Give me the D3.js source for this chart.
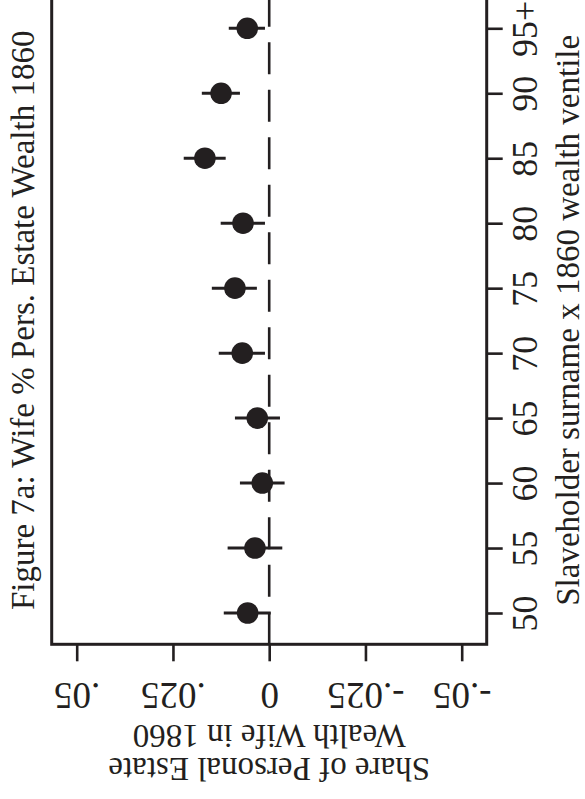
<!DOCTYPE html>
<html>
<head>
<meta charset="utf-8">
<script src="https://cdn.jsdelivr.net/npm/d3@7/dist/d3.min.js"></script>
<style>
  html, body { margin: 0; padding: 0; background: #ffffff; }
  svg { display: block; }
  text { font-family: "Liberation Serif", "Times New Roman", serif; fill: #231f20; }
</style>
</head>
<body>
<div id="chart"></div>
<script>
// ---- data ----
const ventiles = [50, 55, 60, 65, 70, 75, 80, 85, 90, 95];
const ventileLabels = ["50", "55", "60", "65", "70", "75", "80", "85", "90", "95+"];
const coef   = [0.0056, 0.0037, 0.0018, 0.0031, 0.0070, 0.0089, 0.0068, 0.0167, 0.0125, 0.0057];
const ciLow  = [-0.0004, -0.0034, -0.0040, -0.0028, 0.0011, 0.0032, 0.0011, 0.0113, 0.0076, 0.0011];
const ciHigh = [0.0118, 0.0108, 0.0076, 0.0089, 0.0131, 0.0149, 0.0126, 0.0222, 0.0175, 0.0105];
const valueTicks = [0.05, 0.025, 0, -0.025, -0.05];
const valueTickLabels = [".05", ".025", "0", "-.025", "-.05"];
const titleText = "Figure 7a: Wife % Pers. Estate Wealth 1860";
const valueTitleLines = ["Share of Personal Estate", "Wealth Wife in 1860"];
const ventileTitle = "Slaveholder surname x 1860 wealth ventile";

// ---- layout ----
const W = 585, H = 799;
const ink = "#231f20";
const frame = { left: 51.7, right: 486.7, top: -3.7, bottom: 644.3 };

const svg = d3.select("#chart").append("svg")
  .attr("width", W).attr("height", H);

// scales (chart is drawn rotated: ventile runs bottom->top, value runs right->left)
const yScale = d3.scaleLinear().domain([50, 95]).range([613, 28.3]);
const xScale = d3.scaleLinear().domain([0.05, -0.05]).range([76.7, 461.7]);

// plot frame
svg.append("rect")
  .attr("x", frame.left).attr("y", frame.top)
  .attr("width", frame.right - frame.left)
  .attr("height", frame.bottom - frame.top)
  .attr("fill", "none").attr("stroke", ink).attr("stroke-width", 3);

// zero reference line (dashed)
svg.append("line")
  .attr("x1", xScale(0)).attr("x2", xScale(0))
  .attr("y1", frame.bottom).attr("y2", frame.top)
  .attr("stroke", ink).attr("stroke-width", 2.6)
  .attr("stroke-dasharray", "32,15.5");

// confidence intervals
const idx = d3.range(ventiles.length);
svg.append("g").selectAll("line").data(idx).join("line")
  .attr("x1", i => xScale(ciLow[i])).attr("x2", i => xScale(ciHigh[i]))
  .attr("y1", i => yScale(ventiles[i])).attr("y2", i => yScale(ventiles[i]))
  .attr("stroke", ink).attr("stroke-width", 3);

// point estimates
svg.append("g").selectAll("circle").data(idx).join("circle")
  .attr("cx", i => xScale(coef[i])).attr("cy", i => yScale(ventiles[i]))
  .attr("r", 10.8).attr("fill", ink);

// ventile axis (right side)
const ventAxis = d3.axisRight(yScale)
  .tickValues(ventiles)
  .tickFormat((d, i) => ventileLabels[i])
  .tickSize(16).tickSizeOuter(0);
const gv = svg.append("g").attr("transform", `translate(${frame.right},0)`).call(ventAxis);
gv.select(".domain").remove();
gv.selectAll(".tick line").attr("stroke", ink).attr("stroke-width", 2.6);
gv.selectAll(".tick text")
  .attr("x", null).attr("dy", null)
  .attr("transform", "translate(50.5,0) rotate(-90)")
  .attr("text-anchor", "middle")
  .style("font-size", "36px")
  .style("font-family", "'Liberation Serif', 'Times New Roman', serif")
  .attr("fill", ink);

// value axis (bottom, labels upside down)
const valAxis = d3.axisBottom(xScale)
  .tickValues(valueTicks)
  .tickFormat((d, i) => valueTickLabels[i])
  .tickSize(17).tickSizeOuter(0);
const gx = svg.append("g").attr("transform", `translate(0,${frame.bottom})`).call(valAxis);
gx.select(".domain").remove();
gx.selectAll(".tick line").attr("stroke", ink).attr("stroke-width", 2.6);
gx.selectAll(".tick text")
  .attr("y", null).attr("dy", null)
  .attr("transform", "translate(0,38.7) rotate(180)")
  .attr("text-anchor", "middle")
  .style("font-size", "37px")
  .style("font-family", "'Liberation Serif', 'Times New Roman', serif")
  .attr("fill", ink);

const midX = (frame.left + frame.right) / 2;
const midY = (frame.top + frame.bottom) / 2;

// value axis title (two lines, upside down)
svg.append("text")
  .attr("transform", `translate(${midX},758) rotate(180)`)
  .attr("text-anchor", "middle").style("font-size", "33px")
  .text(valueTitleLines[0]);
svg.append("text")
  .attr("transform", `translate(${midX},725) rotate(180)`)
  .attr("text-anchor", "middle").style("font-size", "33px")
  .text(valueTitleLines[1]);

// ventile axis title
svg.append("text")
  .attr("transform", `translate(578.5,${midY}) rotate(-90)`)
  .attr("text-anchor", "middle").style("font-size", "33px")
  .text(ventileTitle);

// chart title
svg.append("text")
  .attr("transform", `translate(33.5,${midY}) rotate(-90)`)
  .attr("text-anchor", "middle").style("font-size", "33px")
  .text(titleText);
</script>
</body>
</html>
